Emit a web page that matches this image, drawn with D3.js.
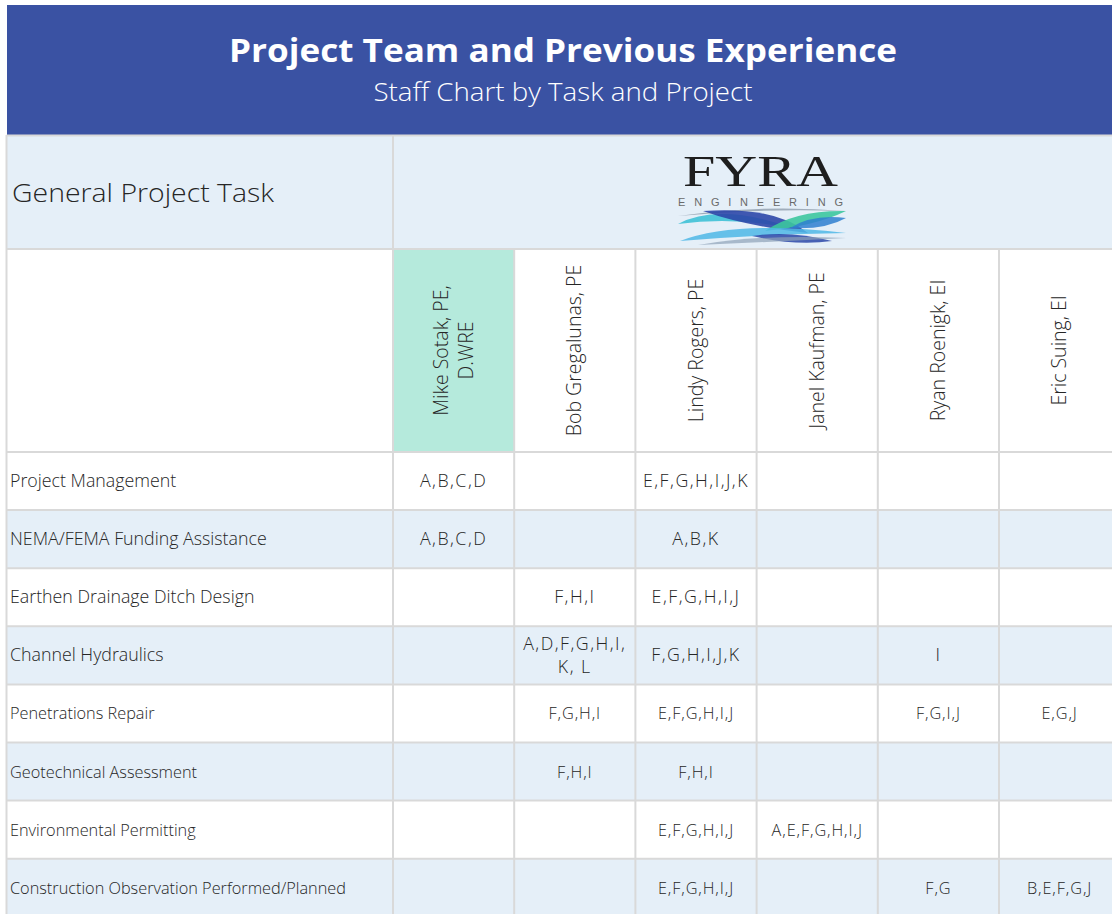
<!DOCTYPE html>
<html>
<head>
<meta charset="utf-8">
<script src="https://cdn.jsdelivr.net/npm/d3@7"></script>
<style>
  html, body { margin: 0; padding: 0; background: #fff; }
  svg { display: block; }
</style>
</head>
<body>
<svg id="chart" width="1112" height="914"></svg>
<script>
// ---------- DATA ----------
const titleText = "Project Team and Previous Experience";
const subtitleText = "Staff Chart by Task and Project";
const cornerLabel = "General Project Task";

const staff = ["Mike Sotak", "Bob Gregalunas", "Lindy Rogers", "Janel Kaufman", "Ryan Roenigk", "Eric Suing"];
const staffLabels = [
  ["Mike Sotak,  PE,", "D.WRE"],
  ["Bob Gregalunas, PE"],
  ["Lindy Rogers, PE"],
  ["Janel Kaufman, PE"],
  ["Ryan Roenigk, EI"],
  ["Eric Suing, EI"]
];
const highlightedStaff = ["Mike Sotak"];

const tasks = [
  "Project Management",
  "NEMA/FEMA Funding Assistance",
  "Earthen Drainage Ditch Design",
  "Channel Hydraulics",
  "Penetrations Repair",
  "Geotechnical Assessment",
  "Environmental Permitting",
  "Construction Observation Performed/Planned"
];

// project letters per task (rows) and staff member (columns)
const experience = [
  ["A,B,C,D", "", "E,F,G,H,I,J,K", "", "", ""],
  ["A,B,C,D", "", "A,B,K", "", "", ""],
  ["", "F,H,I", "E,F,G,H,I,J", "", "", ""],
  ["", "A,D,F,G,H,I,|K, L", "F,G,H,I,J,K", "", "I", ""],
  ["", "F,G,H,I", "E,F,G,H,I,J", "", "F,G,I,J", "E,G,J"],
  ["", "F,H,I", "F,H,I", "", "", ""],
  ["", "", "E,F,G,H,I,J", "A,E,F,G,H,I,J", "", ""],
  ["", "", "E,F,G,H,I,J", "", "F,G", "B,E,F,G,J"]
];

// ---------- LAYOUT ----------
const W = 1112, H = 914;
const left = 6.5, taskColRight = 393;
const colW = 121.2;
const headerTop = 5, headerBottom = 135;
const logoBottom = 249, namesBottom = 452;
const rowH = 58.1;

const blue = "#3A52A3";
const lightBlue = "#E5EFF8";
const mint = "#B5EADC";
const gridColor = "#D9D9D9";
const textColor = "#262626";
const font = "'Open Sans', 'Noto Sans', sans-serif";

const svg = d3.select("#chart");

const x = d3.scaleBand().domain(staff).range([taskColRight, taskColRight + colW * staff.length]).padding(0);
const y = d3.scaleBand().domain(tasks).range([namesBottom, namesBottom + rowH * tasks.length]).padding(0);

// text style for the upper (larger) and lower rows
const rowFont = i => i < 4 ? 17.8 : 16.3;
const rowSpacing = i => i < 4 ? 1.5 : 0.9;

// ---------- TITLE BAND ----------
svg.append("rect").attr("x", 7).attr("y", headerTop).attr("width", W - 7).attr("height", headerBottom - headerTop).attr("fill", blue);
svg.append("text").attr("x", 563).attr("y", 62).attr("text-anchor", "middle")
  .attr("font-family", font).attr("font-weight", 700).attr("font-size", 32).attr("fill", "#fff")
  .attr("textLength", 668).attr("lengthAdjust", "spacingAndGlyphs")
  .text(titleText);
svg.append("text").attr("x", 563).attr("y", 101).attr("text-anchor", "middle")
  .attr("font-family", font).attr("font-weight", 300).attr("font-size", 26).attr("fill", "#fff")
  .attr("textLength", 379).attr("lengthAdjust", "spacingAndGlyphs")
  .text(subtitleText);

// ---------- LOGO ROW ----------
svg.append("rect").attr("x", left).attr("y", headerBottom).attr("width", W - left).attr("height", logoBottom - headerBottom).attr("fill", lightBlue);
svg.append("text").attr("x", 12).attr("y", 202)
  .attr("font-family", font).attr("font-weight", 300).attr("font-size", 25).attr("fill", textColor)
  .attr("textLength", 262).attr("lengthAdjust", "spacingAndGlyphs")
  .text(cornerLabel);

// Logo
const logo = svg.append("g").attr("class", "logo");
logo.append("text").attr("x", 683).attr("y", 186)
  .attr("font-family", "'Liberation Serif', serif").attr("font-size", 44).attr("fill", "#1e1e1e")
  .attr("textLength", 155).attr("lengthAdjust", "spacingAndGlyphs")
  .text("FYRA");
logo.append("text").attr("x", 678).attr("y", 205.5)
  .attr("font-family", "'Liberation Sans', sans-serif").attr("font-size", 11).attr("fill", "#6a6a6a")
  .attr("textLength", 165).attr("lengthAdjust", "spacing")
  .text("ENGINEERING");

function lens(x0, y0, x1, y1, cx1, cy1, cx2, cy2) {
  const p = d3.path();
  p.moveTo(x0, y0);
  p.quadraticCurveTo(cx1, cy1, x1, y1);
  p.quadraticCurveTo(cx2, cy2, x0, y0);
  return p.toString();
}
const waves = [
  { d: lens(678, 216, 846, 211, 760, 204, 760, 208), c: "#8f9cab", o: 0.8 },
  { d: lens(678, 224, 795, 229, 720, 202, 735, 216), c: "#3FC1D6", o: 0.9 },
  { d: lens(703, 211, 808, 233, 775, 206, 745, 226), c: "#2C47A8", o: 0.9 },
  { d: lens(765, 231, 846, 211, 795, 210, 815, 226), c: "#3CC79E", o: 0.9 },
  { d: lens(790, 228, 846, 218, 812, 214, 825, 230), c: "#2F7FD0", o: 0.85 },
  { d: lens(680, 241, 846, 233, 735, 220, 765, 234), c: "#4FB7E6", o: 0.85 },
  { d: lens(752, 236, 832, 241, 790, 230, 795, 246), c: "#2C47A8", o: 0.85 },
  { d: lens(698, 245, 846, 238, 760, 234, 770, 242), c: "#8fa3b8", o: 0.7 }
];
logo.selectAll("path.wave").data(waves).join("path").attr("class", "wave")
  .attr("d", d => d.d).attr("fill", d => d.c).attr("opacity", d => d.o);

// ---------- NAMES ROW ----------
svg.append("rect").attr("x", left).attr("y", logoBottom).attr("width", W - left).attr("height", namesBottom - logoBottom).attr("fill", "#fff");
svg.selectAll("rect.hl").data(highlightedStaff).join("rect").attr("class", "hl")
  .attr("x", d => x(d)).attr("y", logoBottom).attr("width", x.bandwidth()).attr("height", namesBottom - logoBottom)
  .attr("fill", mint);

const nameG = svg.selectAll("g.name").data(staff).join("g").attr("class", "name")
  .attr("transform", d => `translate(${x(d) + x.bandwidth() / 2},${(logoBottom + namesBottom) / 2}) rotate(-90)`);
nameG.each(function (d, i) {
  const lines = staffLabels[i];
  const lh = 25;
  const t = d3.select(this).append("text").attr("text-anchor", "middle")
    .attr("font-family", font).attr("font-weight", 300).attr("font-size", 19.5).attr("fill", textColor);
  lines.forEach((ln, j) => {
    t.append("tspan").attr("x", 0).attr("y", (j - (lines.length - 1) / 2) * lh + 6.5).text(ln);
  });
});

// ---------- DATA ROWS ----------
svg.selectAll("rect.row").data(tasks).join("rect").attr("class", "row")
  .attr("x", left).attr("y", d => y(d)).attr("width", W - left).attr("height", y.bandwidth())
  .attr("fill", (d, i) => i % 2 === 1 ? lightBlue : "#fff");

svg.selectAll("text.task").data(tasks).join("text").attr("class", "task")
  .attr("x", 10).attr("y", d => y(d) + y.bandwidth() / 2 + 6)
  .attr("font-family", font).attr("font-weight", 300)
  .attr("font-size", (d, i) => rowFont(i)).attr("fill", textColor)
  .text(d => d);

const cells = [];
experience.forEach((row, i) => row.forEach((v, j) => { if (v) cells.push({ task: tasks[i], ti: i, who: staff[j], v }); }));
const cellT = svg.selectAll("text.cell").data(cells).join("text").attr("class", "cell")
  .attr("text-anchor", "middle")
  .attr("font-family", font).attr("font-weight", 300)
  .attr("font-size", d => rowFont(d.ti)).attr("letter-spacing", d => rowSpacing(d.ti))
  .attr("fill", textColor);
cellT.each(function (d) {
  const lines = d.v.split("|");
  const lh = 23;
  const cx = x(d.who) + x.bandwidth() / 2;
  const cy = y(d.task) + y.bandwidth() / 2 + 6;
  lines.forEach((ln, j) => {
    d3.select(this).append("tspan").attr("x", cx).attr("y", cy + (j - (lines.length - 1) / 2) * lh).text(ln);
  });
});

// ---------- GRID ----------
const grid = svg.append("g").attr("stroke", gridColor).attr("stroke-width", 2).attr("fill", "none");
const bottom = namesBottom + rowH * tasks.length;
const hLines = [headerBottom + 0.5, logoBottom, namesBottom].concat(tasks.map(t => y(t) + y.bandwidth()));
grid.selectAll("line.h").data(hLines).join("line").attr("class", "h")
  .attr("x1", left).attr("x2", W).attr("y1", d => d).attr("y2", d => d);
grid.append("line").attr("x1", left).attr("x2", left).attr("y1", headerBottom).attr("y2", bottom);
grid.append("line").attr("x1", taskColRight).attr("x2", taskColRight).attr("y1", headerBottom).attr("y2", bottom);
grid.selectAll("line.v").data(staff).join("line").attr("class", "v")
  .attr("x1", d => x(d) + x.bandwidth()).attr("x2", d => x(d) + x.bandwidth())
  .attr("y1", logoBottom).attr("y2", bottom);
</script>
</body>
</html>
